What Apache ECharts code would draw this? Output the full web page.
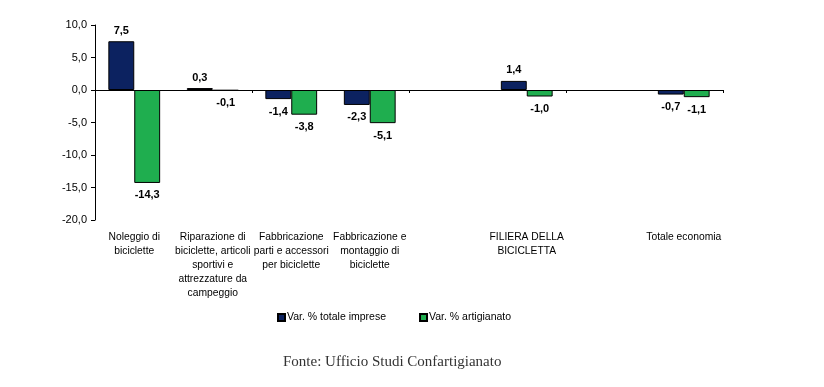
<!DOCTYPE html>
<html><head><meta charset="utf-8">
<script src="https://cdn.jsdelivr.net/npm/echarts@6/dist/echarts.min.js"></script>
<style>html,body{margin:0;padding:0;background:#fff}#c{width:824px;height:387px}</style>
</head><body><div id="c"></div>
<script>
const categories = [
  "Noleggio di\nbiciclette",
  "Riparazione di\nbiciclette, articoli\nsportivi e\nattrezzature da\ncampeggio",
  "Fabbricazione\nparti e accessori\nper biciclette",
  "Fabbricazione e\nmontaggio di\nbiciclette",
  "",
  "FILIERA DELLA\nBICICLETTA",
  "",
  "Totale economia"
];
const totaleImprese = [7.5, 0.3, -1.4, -2.3, null, 1.4, null, -0.7];
const artigianato = [-14.3, -0.1, -3.8, -5.1, null, -1.0, null, -1.1];
const seriesNames = ["Var. % totale imprese", "Var. % artigianato"];
const sourceText = "Fonte: Ufficio Studi Confartigianato";

const fmt = v => v.toFixed(1).replace('.', ',');
const toData = arr => arr.map(v => v == null ? null : ({
  value: v,
  label: v < 0 ? { position: 'bottom', distance: 7 } : { position: 'top', distance: 5 }
}));

const chart = echarts.init(document.getElementById('c'));
const font = 'Liberation Sans, Arial, sans-serif';
chart.setOption({
  animation: false,
  textStyle: { fontFamily: font },
  grid: { left: 95, right: 101, top: 25, bottom: 167 },
  legend: {
    left: 272, top: 307, itemGap: 33, itemWidth: 7, itemHeight: 7, icon: 'rect',
    textStyle: { fontSize: 10.5, color: '#000', fontFamily: font, padding: [0,0,0,-3] },
    data: seriesNames
  },
  graphic: [{
    type: 'text', left: 283, top: 355,
    style: { text: sourceText, font: '15px "Liberation Serif", "Times New Roman", serif', fill: '#333' }
  }],
  xAxis: [{
    type: 'category', data: categories, position: 'bottom',
    axisLine: { onZero: true, lineStyle: { color: '#000', width: 1 } },
    axisTick: { show: true, inside: false, length: 3, lineStyle: { color: '#000' } },
    axisLabel: { show: false }
  }, {
    type: 'category', data: categories, position: 'bottom',
    axisLine: { show: false, onZero: false }, axisTick: { show: false },
    axisLabel: { interval: 0, fontSize: 10.3, color: '#000', lineHeight: 14, margin: 10, fontFamily: font }
  }],
  yAxis: {
    type: 'value', min: -20, max: 10, interval: 5,
    axisLine: { show: true, lineStyle: { color: '#000' } },
    axisTick: { show: true, length: 4, lineStyle: { color: '#000' } },
    splitLine: { show: false },
    axisLabel: { formatter: v => fmt(v), fontSize: 11, color: '#000', margin: 8, fontFamily: font }
  },
  series: [{
    name: seriesNames[0], type: 'bar', xAxisIndex: 0, data: toData(totaleImprese),
    barGap: '0%', barCategoryGap: '34%',
    itemStyle: { color: '#0c2260', borderColor: '#000', borderWidth: 1 },
    label: { show: true, fontSize: 11, fontWeight: 'bold', color: '#000', formatter: p => fmt(p.value), fontFamily: font }
  }, {
    name: seriesNames[1], type: 'bar', xAxisIndex: 0, data: toData(artigianato),
    barGap: '0%', barCategoryGap: '34%',
    itemStyle: { color: '#1fae4f', borderColor: '#000', borderWidth: 1 },
    label: { show: true, fontSize: 11, fontWeight: 'bold', color: '#000', formatter: p => fmt(p.value), fontFamily: font }
  }]
});
</script></body></html>
